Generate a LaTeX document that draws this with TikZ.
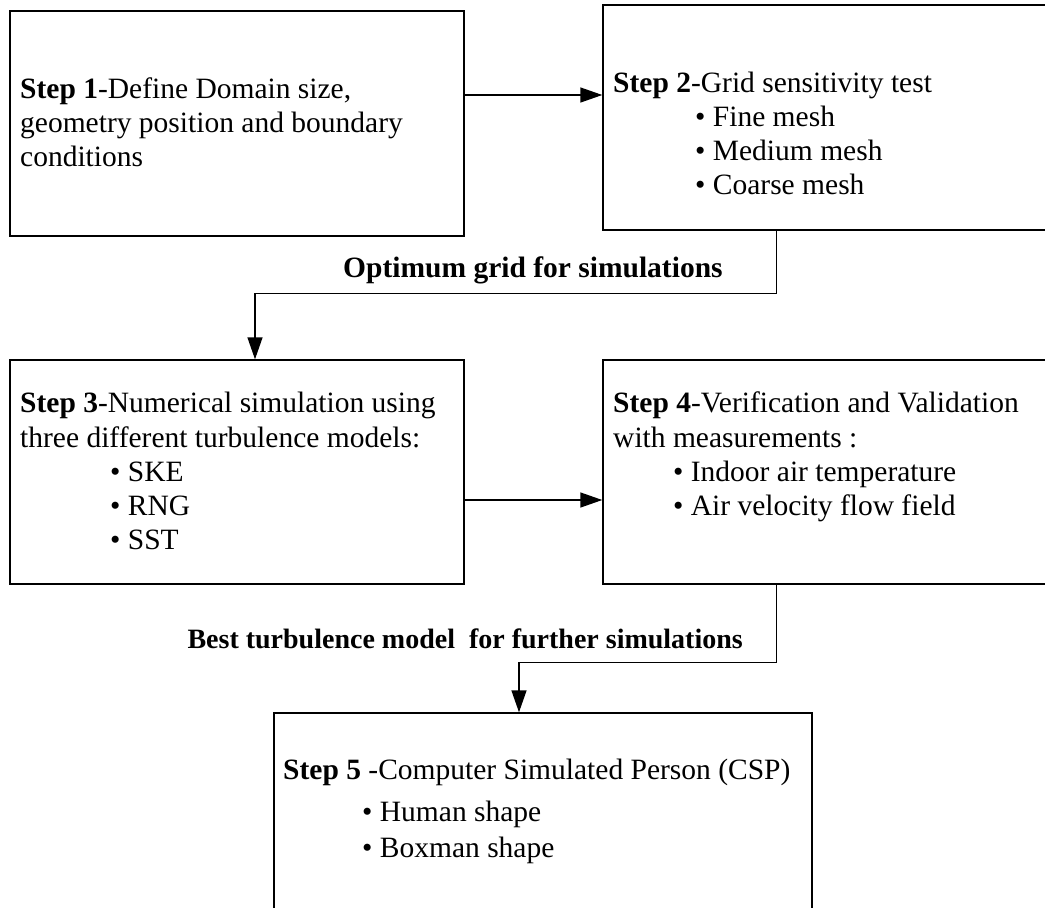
\documentclass[tikz,border=0pt]{standalone}
\usepackage{fontspec}
\setmainfont{Liberation Serif}
\usetikzlibrary{arrows.meta}
\begin{document}
\begin{tikzpicture}[x=1pt,y=-1pt,
  stepbox/.style={draw,line width=1.4pt,rectangle,inner sep=0pt},
  txt/.style={anchor=base west,inner sep=0pt,font=\fontsize{29.5}{34}\selectfont},
  lbl/.style={inner sep=0pt,font=\fontsize{29.5}{34}\selectfont\bfseries},
  arr/.style={line width=1.4pt,-{Triangle[length=22pt,width=15pt]}},
  conn/.style={line width=1.4pt}]
\useasboundingbox (0,0) rectangle (1045,908);
\clip (0,0) rectangle (1045,908);
% boxes
\node[stepbox,minimum width=454pt,minimum height=225pt] (b1) at (237,123.5) {};
\node[stepbox,minimum width=500pt,minimum height=225pt] (b2) at (853,117.5) {};
\node[stepbox,minimum width=454pt,minimum height=224pt] (b3) at (237,472) {};
\node[stepbox,minimum width=500pt,minimum height=224pt] (b4) at (853,472) {};
\node[stepbox,minimum width=538pt,minimum height=260pt] (b5) at (543,843) {};
% texts
\node[txt] (t1a) at (20,98) {\textbf{Step 1}-Define Domain size,};
\node[txt] (t1b) at (20,132) {geometry position and boundary};
\node[txt] (t1c) at (20,166) {conditions};
\node[txt] (t2a) at (613,92) {\textbf{Step 2}-Grid sensitivity test};
\node[txt] (t2b) at (695,126) {• Fine mesh};
\node[txt] (t2c) at (695,160) {• Medium mesh};
\node[txt] (t2d) at (695,194) {• Coarse mesh};
\node[txt] (t3a) at (20,412) {\textbf{Step 3}-Numerical simulation using};
\node[txt] (t3b) at (20,447) {three different turbulence models:};
\node[txt] (t3c) at (110,481) {• SKE};
\node[txt] (t3d) at (110,515) {• RNG};
\node[txt] (t3e) at (110,549) {• SST};
\node[txt] (t4a) at (613,412) {\textbf{Step 4}-Verification and Validation};
\node[txt] (t4b) at (613,447) {with measurements :};
\node[txt] (t4c) at (673,481) {• Indoor air temperature};
\node[txt] (t4d) at (673,515) {• Air velocity flow field};
\node[txt] (t5a) at (283,779) {\textbf{Step 5} -Computer Simulated Person (CSP)};
\node[txt] (t5b) at (362,821) {• Human shape};
\node[txt] (t5c) at (362,857) {• Boxman shape};
% labels
\node[lbl,anchor=base west] (l1) at (343,277) {Optimum grid for simulations};
\node[lbl,anchor=base east,font=\fontsize{28}{34}\selectfont\bfseries] (l2) at (743,648) {Best turbulence model\ \ for further simulations};
% connectors
\draw[arr] ([yshift=28.5pt]b1.east) -- ([yshift=28.5pt]b1.east -| b2.west);
\draw[arr] ([xshift=174pt]b2.south west) |- ([xshift=18pt,yshift=66pt]b3.north) -- ([xshift=18pt]b3.north);
\draw[arr] ([yshift=-28pt]b3.east) -- ([yshift=-28pt]b3.east -| b4.west);
\draw[arr] ([xshift=174pt]b4.south west) |- ([xshift=-24pt,yshift=50pt]b5.north) -- ([xshift=-24pt]b5.north);
\end{tikzpicture}
\end{document}
